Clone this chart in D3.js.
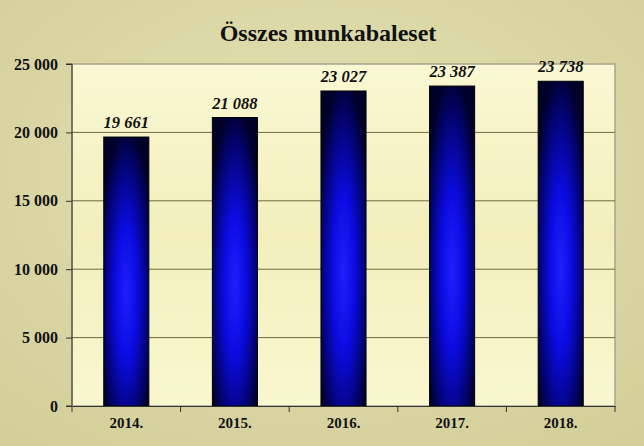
<!DOCTYPE html>
<html><head><meta charset="utf-8">
<script src="https://cdn.jsdelivr.net/npm/d3@7"></script>
<style>html,body{margin:0;padding:0;background:#d9d6a4;}svg{display:block;}</style>
</head><body>
<svg id="c" width="644" height="446"></svg>
<script>
const title = "Összes munkabaleset";
const categories = ["2014.", "2015.", "2016.", "2017.", "2018."];
const values = [19661, 21088, 23027, 23387, 23738];
const valueLabels = ["19 661", "21 088", "23 027", "23 387", "23 738"];
const yTicks = [0, 5000, 10000, 15000, 20000, 25000];
const yTickLabels = ["0", "5 000", "10 000", "15 000", "20 000", "25 000"];

const svg = d3.select("#c");
const W = 644, H = 446;
const m = {left: 72, right: 29, top: 64, bottom: 40};
const iw = W - m.left - m.right, ih = H - m.top - m.bottom;
const defs = svg.append("defs");
const serif = "'Liberation Serif', 'Times New Roman', Times, serif";

const bg = defs.append("radialGradient").attr("id","bg").attr("cx","0.5").attr("cy","0.4").attr("r","0.75");
bg.append("stop").attr("offset","0").attr("stop-color","#e4e1b4");
bg.append("stop").attr("offset","1").attr("stop-color","#d3cf9a");
svg.append("rect").attr("width",W).attr("height",H).attr("fill","url(#bg)");

const pg = defs.append("linearGradient").attr("id","pg").attr("x1",0).attr("y1",0).attr("x2",0).attr("y2",1);
pg.append("stop").attr("offset","0").attr("stop-color","#faf8d2");
pg.append("stop").attr("offset","0.5").attr("stop-color","#f2efbd");
pg.append("stop").attr("offset","1").attr("stop-color","#f9f7cf");

const bgr = defs.append("radialGradient").attr("id","bar").attr("cx","0.5").attr("cy","0.58").attr("r","0.62");
bgr.append("stop").attr("offset","0").attr("stop-color","#1f1fff");
bgr.append("stop").attr("offset","0.4").attr("stop-color","#0b0be0");
bgr.append("stop").attr("offset","0.78").attr("stop-color","#030372");
bgr.append("stop").attr("offset","1").attr("stop-color","#000028");

svg.append("text").attr("x", W/2 + 6).attr("y", 41).attr("text-anchor","middle")
  .attr("font-family",serif).attr("font-weight","bold")
  .attr("font-size", 24).attr("fill","#111").text(title);

const g = svg.append("g").attr("transform",`translate(${m.left},${m.top})`);
g.append("rect").attr("width",iw).attr("height",ih).attr("fill","url(#pg)")
  .attr("stroke","#a8a490").attr("stroke-width",1.5);

const x = d3.scaleBand().domain(categories).range([0, iw]).paddingInner(0.585).paddingOuter(0.2925);
const y = d3.scaleLinear().domain([0, 25000]).range([ih, 0]);

g.selectAll(".grid").data(yTicks.slice(1,-1)).join("line")
  .attr("x1",0).attr("x2",iw).attr("y1",d=>y(d)).attr("y2",d=>y(d))
  .attr("stroke","#6e6a40").attr("stroke-width",1);

g.selectAll(".bar").data(values).join("rect")
  .attr("x",(d,i)=>x(categories[i])).attr("width",x.bandwidth())
  .attr("y",d=>y(d)).attr("height",d=>ih - y(d))
  .attr("fill","url(#bar)").attr("stroke","#000").attr("stroke-width",1);

g.selectAll(".vl").data(values).join("text")
  .attr("x",(d,i)=>x(categories[i]) + x.bandwidth()/2).attr("y",d=>y(d)-9)
  .attr("text-anchor","middle").attr("font-family",serif)
  .attr("font-weight","bold").attr("font-style","italic").attr("font-size",16.5).attr("fill","#111")
  .text((d,i)=>valueLabels[i]);

const yAxis = d3.axisLeft(y).tickValues(yTicks).tickSize(6).tickPadding(8)
  .tickFormat((d,i)=>yTickLabels[i]);
const ya = g.append("g").call(yAxis);
ya.select(".domain").attr("stroke","#333").attr("d", `M-6,0H0V${ih}H-6`);
ya.selectAll(".tick line").attr("stroke","#333");
ya.selectAll("text").attr("font-family",serif).attr("font-weight","bold")
  .attr("font-size",16).attr("fill","#111");

const xa = g.append("g").attr("transform",`translate(0,${ih})`)
  .call(d3.axisBottom(x).tickSize(0).tickPadding(11));
xa.select(".domain").attr("stroke","#333");
xa.selectAll("text").attr("font-family",serif).attr("font-weight","bold")
  .attr("font-size",15).attr("fill","#111");
const bounds = d3.range(categories.length + 1).map(i => i * iw / categories.length);
xa.selectAll(".xt").data(bounds).join("line")
  .attr("x1",d=>d).attr("x2",d=>d).attr("y1",0).attr("y2",6).attr("stroke","#333");
</script>
</body></html>
